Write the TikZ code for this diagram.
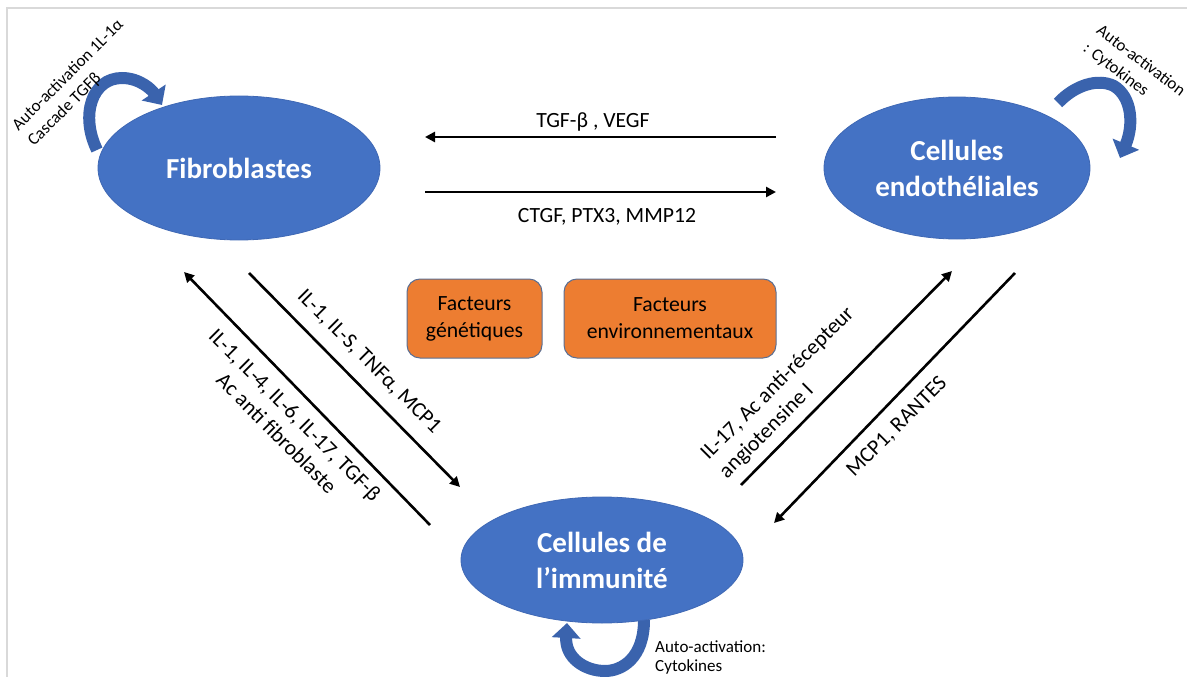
\documentclass[tikz,border=0pt]{standalone}
\usepackage{fontspec}
\setmainfont{Carlito}
\usetikzlibrary{shapes.geometric,arrows.meta}
\definecolor{ellblue}{HTML}{4472C4}
\definecolor{ellline}{HTML}{3F68B4}
\definecolor{arrblue}{HTML}{3A63AD}
\definecolor{orangefill}{HTML}{ED7D31}
\definecolor{orangeline}{HTML}{5B6F93}
\definecolor{framegray}{HTML}{D9D9D9}
\tikzset{
  cell/.style={ellipse, fill=ellblue, draw=ellline, line width=0.8pt, text=white, inner sep=0pt,
    align=center, font=\bfseries\fontsize{29}{36}\selectfont},
  factor/.style={rectangle, rounded corners=13pt, fill=orangefill, draw=orangeline, line width=1pt,
    inner sep=0pt, align=center, font=\fontsize{21.7}{27}\selectfont},
  flow/.style={line width=2.6pt, -{Triangle[length=10pt,width=10pt]}},
  lbl/.style={inner sep=0pt, font=\fontsize{21.7}{26}\selectfont},
  small/.style={inner sep=0pt, font=\fontsize{17}{22}\selectfont},
  loop/.style={line width=12pt, draw=arrblue, -{Triangle[length=15pt,width=28pt]}}
}
\begin{document}
\begin{tikzpicture}[x=1pt,y=-1pt]
\useasboundingbox (0,0) rectangle (1187,677);
% frame
\draw[framegray, line width=2pt] (7,677) -- (7,8) -- (1187,8);

% self-activation loops (behind the ellipses)
\coordinate (la) at (97,150);
\coordinate (lb) at (162,105);
\draw[loop] (la) .. controls (80,115) and (92,78) .. (122,78) .. controls (140,78) and (152,90) .. (lb);
\coordinate (ra) at (1058,103);
\coordinate (rb) at (1120,158);
\draw[loop] (ra) .. controls (1075,85) and (1098,78) .. (1114,86) .. controls (1132,97) and (1134,125) .. (rb);
\coordinate (ba) at (644,620);
\coordinate (bb) at (567,623);
\draw[loop] (ba) .. controls (644,658) and (622,671) .. (605,671) .. controls (585,671) and (565,658) .. (bb);

% cells
\node[cell, minimum width=282pt, minimum height=144pt] (fib) at (239,168) {Fibroblastes};
\node[cell, minimum width=266pt, minimum height=142pt] (endo) at (957,168) {Cellules\\endothéliales};
\node[cell, minimum width=282pt, minimum height=126pt] (imm) at (602,560) {Cellules de\\l’immunité};

% factors
\node[factor, minimum width=135pt, minimum height=79pt] (gen) at (474.5,318.5) {Facteurs\\génétiques};
\node[factor, minimum width=212pt, minimum height=79pt] (env) at (670,318.5) {Facteurs\\environnementaux};

% horizontal arrows
\coordinate (h1s) at (776,137);
\coordinate (h1e) at (425,137);
\coordinate (h2s) at (425,192);
\coordinate (h2e) at (776,192);
\draw[flow] (h1s) -- (h1e);
\draw[flow] (h2s) -- (h2e);
\node[lbl, anchor=base] (tgf) at (593,128) {TGF-β , VEGF};
\node[lbl, anchor=base] (ctgf) at (607,222) {CTGF, PTX3, MMP12};

% diagonal arrows left
\coordinate (d1s) at (430,525);
\coordinate (d1e) at (184,272);
\coordinate (d2s) at (249,273);
\coordinate (d2e) at (460,487);
\draw[flow] (d1s) -- (d1e);
\draw[flow] (d2s) -- (d2e);
\node[lbl, rotate=-45, align=center] (il1) at (286,424) {IL-1, IL-4, IL-6, IL-17, TGF-β\\Ac anti fibroblaste};
\node[lbl, rotate=-45] (il5) at (369,362) {IL-1, IL-S, TNFα, MCP1};

% diagonal arrows right
\coordinate (d3s) at (741,485);
\coordinate (d3e) at (952,271);
\coordinate (d4s) at (1015,273);
\coordinate (d4e) at (774,523);
\draw[flow] (d3s) -- (d3e);
\draw[flow] (d4s) -- (d4e);
\node[lbl, rotate=45, align=left] (il17) at (787,393) {IL-17, Ac anti-récepteur\\angiotensine I};
\node[lbl, rotate=45] (mcp) at (897,427) {MCP1, RANTES};

% loop labels
\node[small, rotate=45, align=left] (tl) at (76,83) {Auto-activation 1L-1α\\Cascade TGFβ};
\node[small, rotate=-37, align=left] (tr) at (1134,70) {Auto-activation\\: Cytokines};
\node[small, anchor=base west] (bl1) at (655,652) {Auto-activation:};
\node[small, anchor=base west] (bl2) at (655,671) {Cytokines};
\end{tikzpicture}
\end{document}
